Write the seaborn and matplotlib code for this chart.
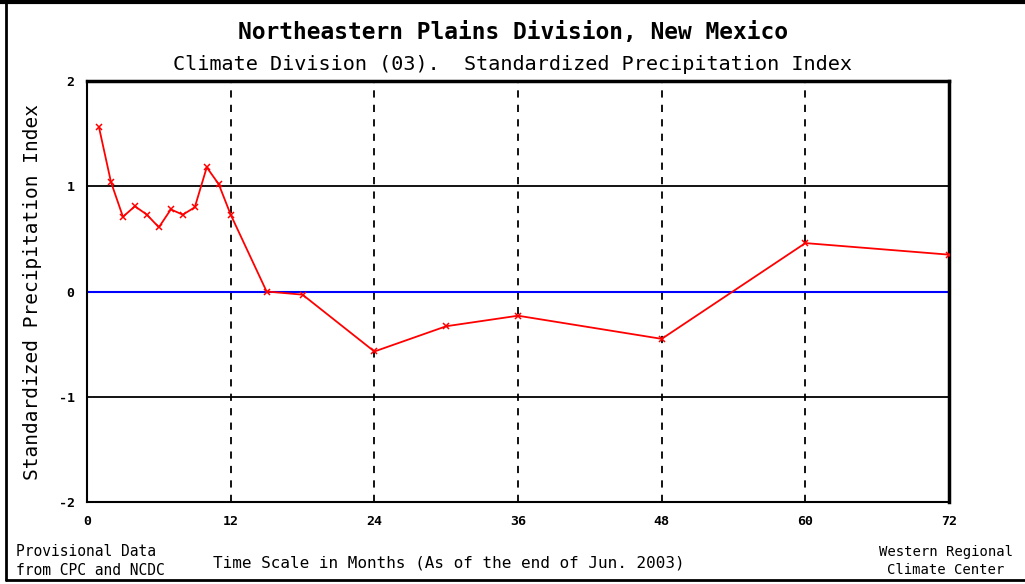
import matplotlib
matplotlib.use("Agg")
import matplotlib.pyplot as plt
import pandas as pd
import seaborn as sns
from matplotlib.lines import Line2D

# SPI values
months = [1, 2, 3, 4, 5, 6, 7, 8, 9, 10, 11, 12, 15, 18, 24, 30, 36, 48, 60, 72]
spi = [1.56, 1.04, 0.71, 0.81, 0.73, 0.61, 0.78, 0.73, 0.80, 1.18, 1.02, 0.73,
       0.00, -0.03, -0.57, -0.33, -0.23, -0.45, 0.46, 0.35]
x_ticks = [0, 12, 24, 36, 48, 60, 72]
y_ticks = [-2, -1, 0, 1, 2]

df = pd.DataFrame({"month": months, "spi": spi})

sns.set_style("white")
plt.rcParams["font.family"] = ["DejaVu Sans Mono"]
plt.rcParams["text.color"] = "black"
plt.rcParams["axes.labelcolor"] = "black"
plt.rcParams["xtick.color"] = "black"
plt.rcParams["ytick.color"] = "black"

fig = plt.figure(figsize=(10.25, 5.84), dpi=100)
ax = fig.add_axes([0.0849, 0.1404, 0.841, 0.7209])

# reference lines
for v in [12, 24, 36, 48, 60]:
    ax.axvline(v, color="black", linestyle=(0, (4, 4)), linewidth=1.3, zorder=1)
ax.axhline(1, color="black", linewidth=1.3, zorder=1)
ax.axhline(-1, color="black", linewidth=1.3, zorder=1)
ax.axhline(0, color="#0000ff", linewidth=1.5, zorder=1)

sns.lineplot(data=df, x="month", y="spi", ax=ax, color="#ff0000", linewidth=1.3,
             marker="x", markersize=5, markeredgewidth=1.1, markeredgecolor="#ff0000",
             zorder=3)

ax.set_xlim(0, 72)
ax.set_ylim(-2, 2)
ax.set_xticks(x_ticks)
ax.set_yticks(y_ticks)
ax.set_xticklabels([str(t) for t in x_ticks], fontsize=9.5, fontweight="bold")
ax.set_yticklabels([str(t) for t in y_ticks], fontsize=9.5, fontweight="bold")
ax.tick_params(axis="both", direction="in", length=4, width=1, pad=9)

for side in ["left", "bottom"]:
    ax.spines[side].set_linewidth(1.5)
    ax.spines[side].set_color("black")
for side in ["top", "right"]:
    ax.spines[side].set_linewidth(2.5)
    ax.spines[side].set_color("black")

ax.set_xlabel("")
ax.set_ylabel("Standardized Precipitation Index", fontsize=14, labelpad=12)

fig.text(0.5, 1 - 33 / 584, "Northeastern Plains Division, New Mexico",
         ha="center", va="center", fontsize=16.5, fontweight="bold")
fig.text(0.5, 1 - 64 / 584, "Climate Division (03).  Standardized Precipitation Index",
         ha="center", va="center", fontsize=14.5)
fig.text(449 / 1025, 1 - 563 / 584, "Time Scale in Months (As of the end of Jun. 2003)",
         ha="center", va="center", fontsize=11.5)
fig.text(16 / 1025, 1 - 561 / 584, "Provisional Data\nfrom CPC and NCDC",
         ha="left", va="center", fontsize=10.5, linespacing=1.35)
fig.text(946 / 1025, 1 - 561 / 584, "Western Regional\nClimate Center",
         ha="center", va="center", fontsize=10, linespacing=1.35)

# image frame
fig.add_artist(Line2D([0, 1], [1 - 1.5 / 584, 1 - 1.5 / 584], color="black", linewidth=3,
                      transform=fig.transFigure))
fig.add_artist(Line2D([6 / 1025, 6 / 1025], [1 - 580 / 584, 1], color="black", linewidth=2,
                      transform=fig.transFigure))
fig.add_artist(Line2D([6 / 1025, 1], [1 - 580 / 584, 1 - 580 / 584], color="black",
                      linewidth=2, transform=fig.transFigure))

fig.savefig("out.png", dpi=100, facecolor="white")
